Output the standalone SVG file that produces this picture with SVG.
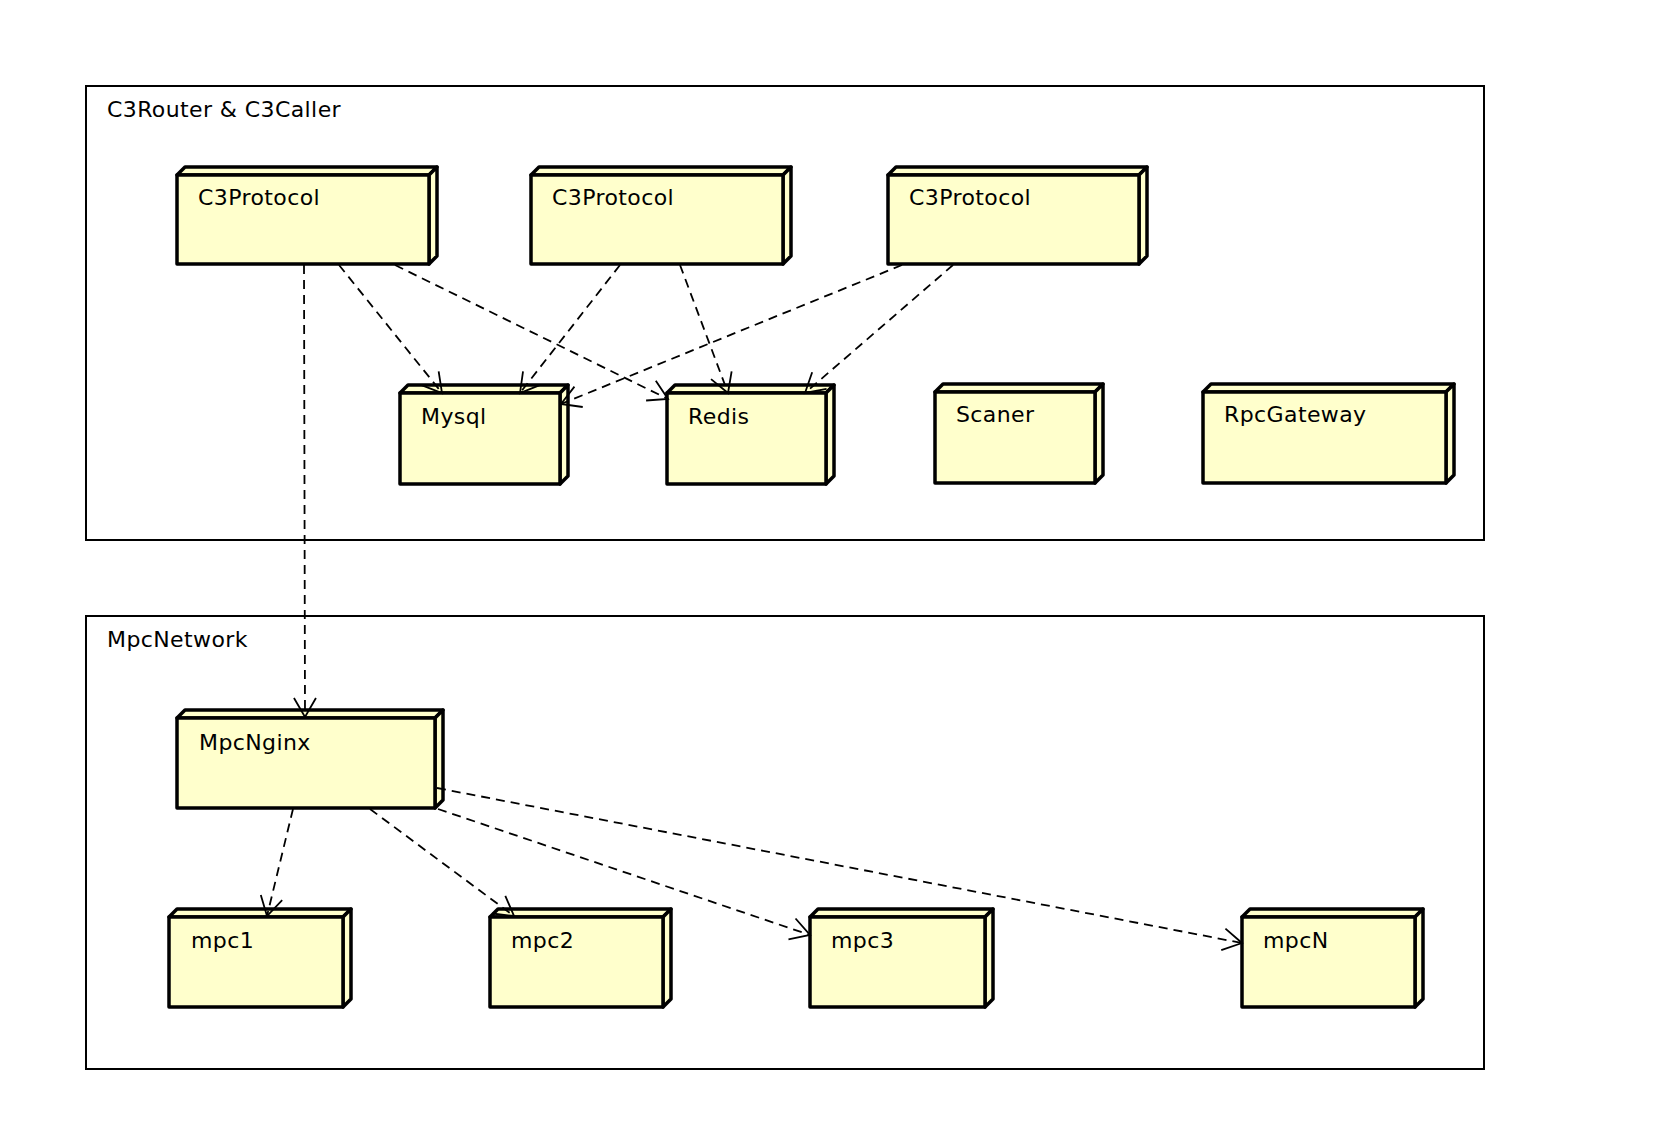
<svg xmlns="http://www.w3.org/2000/svg" width="1660" height="1142" viewBox="0 0 1660 1142">
<style>
.frame{fill:#fff;stroke:#000;stroke-width:2}
.n{fill:#FFFFCC;stroke:#000;stroke-width:3.5;stroke-linejoin:round}
.t{font-family:"DejaVu Sans","Liberation Sans",sans-serif;font-size:22px;letter-spacing:0.4px;fill:#000}
.c{fill:none;stroke:#000;stroke-width:1.8;stroke-dasharray:9 6}
</style>
<defs>
<marker id="arr" markerUnits="userSpaceOnUse" markerWidth="30" markerHeight="30" refX="0" refY="0" viewBox="-22 -15 30 30" orient="auto" overflow="visible">
<path d="M -19 -11 L 0 0 L -19 11" fill="none" stroke="#000" stroke-width="1.8"/>
</marker>
</defs>
<rect width="1660" height="1142" fill="#fff"/>
<g id="frame-c3router">
<rect class="frame" x="86" y="86" width="1398" height="454"/>
<text class="t" x="107" y="117">C3Router &amp; C3Caller</text>
</g>
<g id="frame-mpcnetwork">
<rect class="frame" x="86" y="616" width="1398" height="453"/>
<text class="t" x="107" y="647">MpcNetwork</text>
</g>
<g id="c3protocol-1">
<polygon class="n" points="177,175 185,167 437,167 429,175"/>
<polygon class="n" points="429,175 437,167 437,256 429,264"/>
<rect class="n" x="177" y="175" width="252" height="89"/>
<text class="t" x="198" y="205">C3Protocol</text>
</g>
<g id="c3protocol-2">
<polygon class="n" points="531,175 539,167 791,167 783,175"/>
<polygon class="n" points="783,175 791,167 791,256 783,264"/>
<rect class="n" x="531" y="175" width="252" height="89"/>
<text class="t" x="552" y="205">C3Protocol</text>
</g>
<g id="c3protocol-3">
<polygon class="n" points="888,175 896,167 1147,167 1139,175"/>
<polygon class="n" points="1139,175 1147,167 1147,256 1139,264"/>
<rect class="n" x="888" y="175" width="251" height="89"/>
<text class="t" x="909" y="205">C3Protocol</text>
</g>
<g id="mysql">
<polygon class="n" points="400,393 408,385 568,385 560,393"/>
<polygon class="n" points="560,393 568,385 568,476 560,484"/>
<rect class="n" x="400" y="393" width="160" height="91"/>
<text class="t" x="421" y="424">Mysql</text>
</g>
<g id="redis">
<polygon class="n" points="667,393 675,385 834,385 826,393"/>
<polygon class="n" points="826,393 834,385 834,476 826,484"/>
<rect class="n" x="667" y="393" width="159" height="91"/>
<text class="t" x="688" y="424">Redis</text>
</g>
<g id="scaner">
<polygon class="n" points="935,392 943,384 1103,384 1095,392"/>
<polygon class="n" points="1095,392 1103,384 1103,475 1095,483"/>
<rect class="n" x="935" y="392" width="160" height="91"/>
<text class="t" x="956" y="422">Scaner</text>
</g>
<g id="rpcgateway">
<polygon class="n" points="1203,392 1211,384 1454,384 1446,392"/>
<polygon class="n" points="1446,392 1454,384 1454,475 1446,483"/>
<rect class="n" x="1203" y="392" width="243" height="91"/>
<text class="t" x="1224" y="422">RpcGateway</text>
</g>
<g id="mpcnginx">
<polygon class="n" points="177,718 185,710 443,710 435,718"/>
<polygon class="n" points="435,718 443,710 443,800 435,808"/>
<rect class="n" x="177" y="718" width="258" height="90"/>
<text class="t" x="199" y="750">MpcNginx</text>
</g>
<g id="mpc1">
<polygon class="n" points="169,917 177,909 351,909 343,917"/>
<polygon class="n" points="343,917 351,909 351,999 343,1007"/>
<rect class="n" x="169" y="917" width="174" height="90"/>
<text class="t" x="191" y="948">mpc1</text>
</g>
<g id="mpc2">
<polygon class="n" points="490,917 498,909 671,909 663,917"/>
<polygon class="n" points="663,917 671,909 671,999 663,1007"/>
<rect class="n" x="490" y="917" width="173" height="90"/>
<text class="t" x="511" y="948">mpc2</text>
</g>
<g id="mpc3">
<polygon class="n" points="810,917 818,909 993,909 985,917"/>
<polygon class="n" points="985,917 993,909 993,999 985,1007"/>
<rect class="n" x="810" y="917" width="175" height="90"/>
<text class="t" x="831" y="948">mpc3</text>
</g>
<g id="mpcn">
<polygon class="n" points="1242,917 1250,909 1423,909 1415,917"/>
<polygon class="n" points="1415,917 1423,909 1423,999 1415,1007"/>
<rect class="n" x="1242" y="917" width="173" height="90"/>
<text class="t" x="1263" y="948">mpcN</text>
</g>
<g id="connectors">
<line class="c" x1="304" y1="265" x2="305" y2="717" marker-end="url(#arr)"/>
<line class="c" x1="339" y1="265" x2="442" y2="393" marker-end="url(#arr)"/>
<line class="c" x1="395" y1="265" x2="668" y2="399" marker-end="url(#arr)"/>
<line class="c" x1="620" y1="265" x2="520" y2="393" marker-end="url(#arr)"/>
<line class="c" x1="680" y1="265" x2="728" y2="393" marker-end="url(#arr)"/>
<line class="c" x1="902" y1="265" x2="561" y2="404" marker-end="url(#arr)"/>
<line class="c" x1="953" y1="265" x2="805" y2="393" marker-end="url(#arr)"/>
<line class="c" x1="293" y1="809" x2="267" y2="916" marker-end="url(#arr)"/>
<line class="c" x1="370" y1="809" x2="514" y2="916" marker-end="url(#arr)"/>
<line class="c" x1="438" y1="809" x2="810" y2="935" marker-end="url(#arr)"/>
<line class="c" x1="437" y1="788" x2="1242" y2="943" marker-end="url(#arr)"/>
</g>
</svg>
